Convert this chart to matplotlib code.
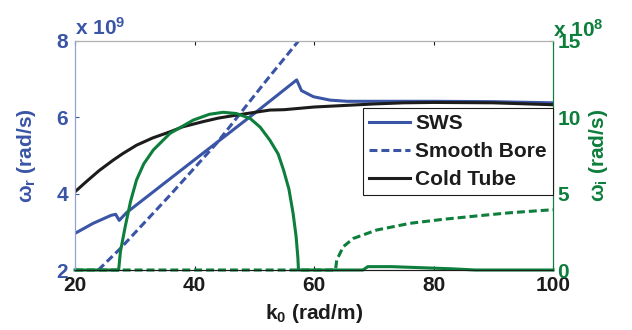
import matplotlib
matplotlib.use("Agg")
import matplotlib.pyplot as plt

# k0 (rad/m) and omega_r (x1e9 rad/s)
k_sws = [20, 23, 26, 26.8, 27.4, 28.6, 35, 41.5, 50, 57.1, 57.9, 59.9, 62.7, 65.5, 70, 80, 90, 100]
wr_sws = [2.96, 3.22, 3.43, 3.46, 3.30, 3.50, 4.28, 5.07, 6.10, 6.98, 6.70, 6.54, 6.45, 6.42, 6.42, 6.42, 6.41, 6.38]

k_bore = [23.9, 27.5, 35.9, 43.7, 52.1, 57.4]
wr_bore = [2.0, 2.55, 3.96, 5.32, 6.98, 8.0]

k_cold = [20, 22, 24, 26.4, 28, 30.3, 33, 35.9, 38, 41.5, 44, 47.1, 52.6, 55, 60, 65, 70, 75, 80, 90, 100]
wr_cold = [4.05, 4.33, 4.60, 4.88, 5.05, 5.27, 5.46, 5.62, 5.75, 5.89, 5.98, 6.06, 6.19, 6.20, 6.27, 6.31, 6.35, 6.38, 6.39, 6.38, 6.33]

# omega_i (x1e8 rad/s)
k_wi_sws = [20, 27.3, 27.6, 28.4, 29.3, 30.3, 31.5, 33.1, 35.9, 39.8, 42.5, 44.8, 47, 49.3, 51, 52.6,
            54, 54.9, 55.8, 56.5, 57.0, 57.3, 57.4, 68.2, 69, 73, 78, 83, 87, 100]
wi_sws = [0, 0, 1.2, 2.84, 4.5, 5.9, 6.95, 7.86, 8.95, 9.82, 10.2, 10.33, 10.25, 9.93, 9.35, 8.51,
          7.6, 6.55, 5.3, 3.71, 2.2, 0.8, 0, 0, 0.22, 0.22, 0.15, 0.08, 0, 0]

k_wi_bore = [20, 63.6, 63.8, 64.9, 66.6, 70.5, 76.1, 81.6, 87.2, 92.8, 100]
wi_bore = [0, 0, 0.65, 1.53, 2.07, 2.62, 3.06, 3.32, 3.54, 3.75, 3.95]

x_ticks = [20, 40, 60, 80, 100]
left_ticks = [2, 4, 6, 8]
right_ticks = [0, 5, 10, 15]

BLUE = "#3a55a6"
GREEN = "#0d7e3c"
BLACK = "#1c1c1c"

plt.rcParams["font.family"] = ["Liberation Sans", "DejaVu Sans"]
plt.rcParams["font.weight"] = "bold"
plt.rcParams["axes.labelweight"] = "bold"
plt.rcParams["font.size"] = 15
plt.rcParams["mathtext.fontset"] = "custom"
plt.rcParams["mathtext.rm"] = "Liberation Sans:bold"
plt.rcParams["mathtext.bf"] = "Liberation Sans:bold"
plt.rcParams["mathtext.it"] = "Liberation Sans:bold"
plt.rcParams["mathtext.default"] = "bf"

fig = plt.figure(figsize=(6.32, 3.30), dpi=100)
ax1 = fig.add_axes([0.1187, 0.1818, 0.875 - 0.1187, 0.8758 - 0.1818])
ax2 = ax1.twinx()

lw = 2.2
dash = (2.6, 1.3)
l1, = ax1.plot(k_sws, wr_sws, color=BLUE, lw=lw, label="SWS")
l2, = ax1.plot(k_bore, wr_bore, color=BLUE, lw=lw, dashes=dash, label="Smooth Bore")
l3, = ax1.plot(k_cold, wr_cold, color=BLACK, lw=lw, label="Cold Tube")
ax2.plot(k_wi_bore, wi_bore, color=GREEN, lw=lw, dashes=dash, clip_on=False)
ax2.plot(k_wi_sws, wi_sws, color=GREEN, lw=lw, clip_on=False)

ax1.set_xlim(20, 100)
ax1.set_ylim(2, 8)
ax2.set_ylim(0, 15)
ax1.set_xticks(x_ticks)
ax1.set_yticks(left_ticks)
ax2.set_yticks(right_ticks)

ax1.tick_params(axis="x", direction="in", length=3, top=True, colors=BLACK, pad=4)
ax1.tick_params(axis="y", direction="in", length=3, colors=BLUE, pad=5)
ax2.tick_params(axis="y", direction="in", length=3, colors=GREEN, pad=3)

for ax in (ax1, ax2):
    ax.spines["top"].set_color("#b0b0b0")
    ax.spines["bottom"].set_color(BLACK)
    ax.spines["left"].set_color("#8ea0d4")
    ax.spines["right"].set_color(GREEN)
    for s in ax.spines.values():
        s.set_linewidth(0.8)

ax1.set_xlabel("k$_0$ (rad/m)", color=BLACK)
ax1.set_ylabel("ω$_r$ (rad/s)", color=BLUE)
ax2.set_ylabel("ω$_i$ (rad/s)", color=GREEN)
ax1.xaxis.set_label_coords(0.5, -0.14)
ax1.yaxis.set_label_coords(-0.077, 0.5)
ax2.yaxis.set_label_coords(1.071, 0.5)

ax1.text(0.0, 1.026, "x 10$^9$", transform=ax1.transAxes, ha="left", va="baseline", color=BLUE)
ax2.text(1.0, 1.02, "x 10$^8$", transform=ax2.transAxes, ha="left", va="baseline", color=GREEN)

leg = ax2.legend(handles=[l1, l2, l3], loc="upper right", bbox_to_anchor=(1.0, 0.707),
                 borderaxespad=0, fancybox=False, edgecolor=BLACK, framealpha=1,
                 handlelength=1.95, handletextpad=0.25, labelspacing=0.42, borderpad=0.3)
leg.get_frame().set_linewidth(0.8)
for t in leg.get_texts():
    t.set_color(BLACK)

fig.savefig("out.png", dpi=100)
